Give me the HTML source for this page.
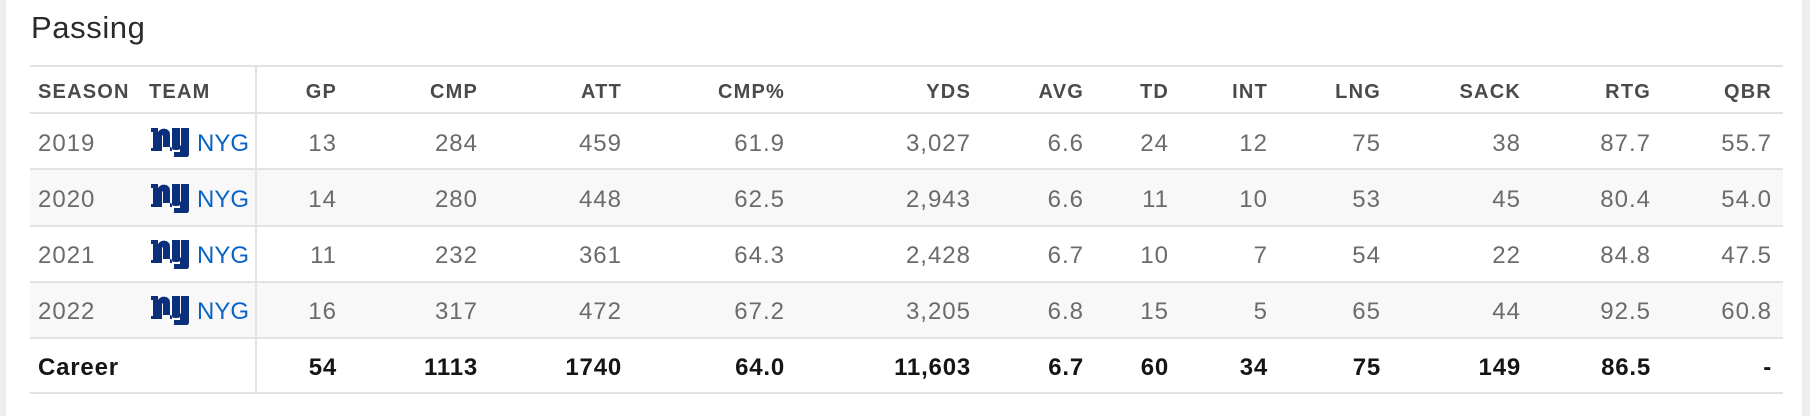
<!DOCTYPE html>
<html><head><meta charset="utf-8"><style>
body{margin:0;width:1810px;height:416px;background:#fff;position:relative;overflow:hidden;font-family:"Liberation Sans",Arial,sans-serif}
.strip{position:absolute;top:0;bottom:0;width:6px;background:#eceef0}
.t{position:absolute;white-space:nowrap}
.h{font-size:20px;font-weight:bold;color:#4a4a4a;letter-spacing:1.2px}
.d{font-size:24px;color:#6b6b6b;letter-spacing:1px}
.c{font-size:24px;font-weight:bold;color:#151515;letter-spacing:0.8px}
.hl{position:absolute;left:30px;width:1753px;height:2px;background:#e2e2e2}
.bg{position:absolute;left:30px;width:1753px;background:#f8f8f8}
.logo{position:absolute;left:151px;width:38px;height:30px}
.nyg{font-size:24px;color:#0a62c8}
</style></head><body>
<div class="strip" style="left:0"></div>
<div class="strip" style="left:1802px;width:8px"></div>
<div class="t" style="left:31px;top:10px;font-size:31px;color:#2a2a2a;letter-spacing:0.6px">Passing</div>
<div class="bg" style="top:170px;height:56px"></div>
<div class="bg" style="top:283px;height:55px"></div>
<div class="hl" style="top:65px"></div>
<div class="hl" style="top:112px"></div>
<div class="hl" style="top:168px"></div>
<div class="hl" style="top:225px"></div>
<div class="hl" style="top:281px"></div>
<div class="hl" style="top:337px"></div>
<div class="hl" style="top:392px"></div>
<div style="position:absolute;left:255px;top:66px;width:2px;height:327px;background:#e2e2e2"></div>
<div id="c"></div>
<script>
const R=[337,478,622,785,971,1084,1169,1268,1381,1521,1651,1772];
const H=["GP","CMP","ATT","CMP%","YDS","AVG","TD","INT","LNG","SACK","RTG","QBR"];
const D=[["2019",13,284,459,"61.9","3,027","6.6",24,12,75,38,"87.7","55.7"],
["2020",14,280,448,"62.5","2,943","6.6",11,10,53,45,"80.4","54.0"],
["2021",11,232,361,"64.3","2,428","6.7",10,7,54,22,"84.8","47.5"],
["2022",16,317,472,"67.2","3,205","6.8",15,5,65,44,"92.5","60.8"]];
const C=["54","1113","1740","64.0","11,603","6.7","60","34","75","149","86.5","-"];
const mids=[144,200,256,312,368];
let s='';
function cell(cls,txt,right,mid,left){
 const pos=left!==undefined?`left:${left}px`:`right:${1810-right}px`;
 s+=`<div class="t ${cls}" style="${pos};top:${mid-15}px;height:30px;line-height:30px">${txt}</div>`;
}
cell('h','SEASON',0,92,38);cell('h','TEAM',0,92,149);
H.forEach((h,i)=>cell('h',h,R[i],92));
D.forEach((r,j)=>{
 const m=mids[j];
 cell('d',r[0],0,m,38);
 s+=`<svg class="logo" style="top:${m-17}px" viewBox="0 0 38 30"><path fill="#0b2f7a" d="M0 1h7v4c2-3 5-4 8-3 3 1 4 3 4 6v16h2V1h8v17c0 1 1 1 1 0V1h8v26c0 2-1 3-3 3H23v-5h6v-3c-1 1-3 1-5 1-3 0-4-2-4-5v2H12V9c0-1-1-1-1 0v15H0v-3h2V5H0z"/></svg>`;
 cell('nyg','NYG',0,m,197);
 r.slice(1).forEach((v,i)=>cell('d',v,R[i],m));
});
cell('c','Career',0,mids[4],38);
C.forEach((v,i)=>cell('c',v,R[i],mids[4]));
document.getElementById('c').outerHTML=s;
</script>
</body></html>
